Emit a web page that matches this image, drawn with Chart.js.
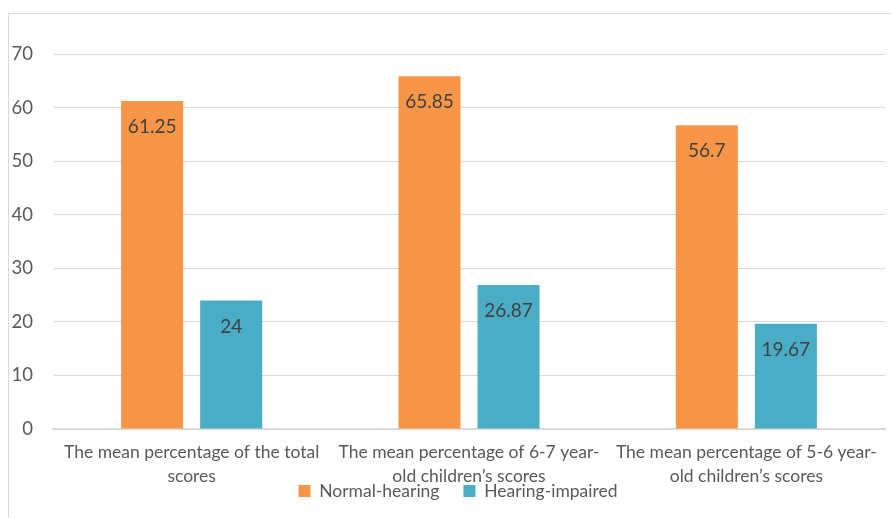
<!DOCTYPE html>
<html>
<head>
<meta charset="utf-8">
<script src="https://cdn.jsdelivr.net/npm/chart.js@4/dist/chart.umd.min.js"></script>
<style>
  html, body { margin: 0; padding: 0; background: #fff; }
  body { width: 891px; height: 518px; position: relative; overflow: hidden; }
  #frame { position: absolute; left: 8px; top: 13px; width: 900px; height: 520px; border: 1px solid #d9d9d9; box-sizing: border-box; }
  #wrap { position: absolute; left: 0; top: 14px; width: 891px; height: 504px; }
</style>
</head>
<body>
<div id="frame"></div>
<div id="wrap"><canvas id="c"></canvas></div>
<script>
const categories = [
  ["The mean percentage of the total", "scores"],
  ["The mean percentage of 6-7 year-", "old children\u2019s scores"],
  ["The mean percentage of 5-6 year-", "old children\u2019s scores"]
];
const seriesNames = ["Normal-hearing", "Hearing-impaired"];
const normalHearing = [61.25, 65.85, 56.7];
const hearingImpaired = [24, 26.87, 19.67];
const yTicks = [0, 10, 20, 30, 40, 50, 60, 70];

const FONT = "Lato, 'Open Sans', sans-serif";

const labelPlugin = {
  id: 'insideEndLabels',
  afterDatasetsDraw(chart) {
    const ctx = chart.ctx;
    ctx.save();
    ctx.font = "19px " + FONT;
    ctx.fillStyle = "#404040";
    ctx.textAlign = "center";
    ctx.textBaseline = "middle";
    chart.data.datasets.forEach((ds, i) => {
      const meta = chart.getDatasetMeta(i);
      meta.data.forEach((el, j) => {
        ctx.fillText(String(ds.data[j]), el.x, el.y + 26);
      });
    });
    ctx.restore();
  }
};

// let the two-line category labels extend below the x-scale box (they sit beside the legend, as in the reference)
const layoutTweak = {
  id: 'layoutTweak',
  beforeDraw(chart) {
    const x = chart.scales.x;
    x.bottom = x.top + 62;
    const lg = chart.legend;
    if (lg && lg._shiftedAt !== lg.top) { lg.left += 11; lg.right += 11; lg._shiftedAt = lg.top; }
  }
};

new Chart(document.getElementById('c'), {
  type: 'bar',
  data: {
    labels: categories,
    datasets: [
      { label: seriesNames[0], data: normalHearing, backgroundColor: '#F79646', categoryPercentage: 0.57, barPercentage: 0.785 },
      { label: seriesNames[1], data: hearingImpaired, backgroundColor: '#4BACC6', categoryPercentage: 0.57, barPercentage: 0.785 }
    ]
  },
  options: {
    responsive: true,
    maintainAspectRatio: false,
    animation: false,
    layout: { padding: { left: 9, right: 6, top: 40, bottom: 8.25 } },
    plugins: {
      legend: {
        position: 'bottom',
        labels: {
          boxWidth: 12, boxHeight: 12, padding: 24,
          color: '#595959',
          font: { family: FONT, size: 17.5 },
          generateLabels(chart) {
            return chart.data.datasets.map((ds, i) => ({
              text: ds.label, fillStyle: ds.backgroundColor, strokeStyle: ds.backgroundColor,
              lineWidth: 0, datasetIndex: i, fontColor: '#595959'
            }));
          }
        }
      },
      tooltip: { enabled: false }
    },
    scales: {
      x: {
        grid: { display: false, drawTicks: false },
        border: { display: true, color: '#d9d9d9', width: 2 },
        ticks: { color: '#595959', font: { family: FONT, size: 17.5, lineHeight: 1.33 }, padding: 12, maxRotation: 0, autoSkip: false },
        afterFit(scale) { scale.height = 29.25; }
      },
      y: {
        min: 0, max: 70,
        afterBuildTicks(scale) { scale.ticks = yTicks.map(v => ({ value: v })); },
        grid: { color: '#d9d9d9', lineWidth: 1, drawTicks: false },
        border: { display: false },
        ticks: { color: '#595959', font: { family: FONT, size: 18.5 }, padding: 20 },
        afterFit(scale) { scale.width = 44; }
      }
    }
  },
  plugins: [labelPlugin, layoutTweak]
});
</script>
</body>
</html>
